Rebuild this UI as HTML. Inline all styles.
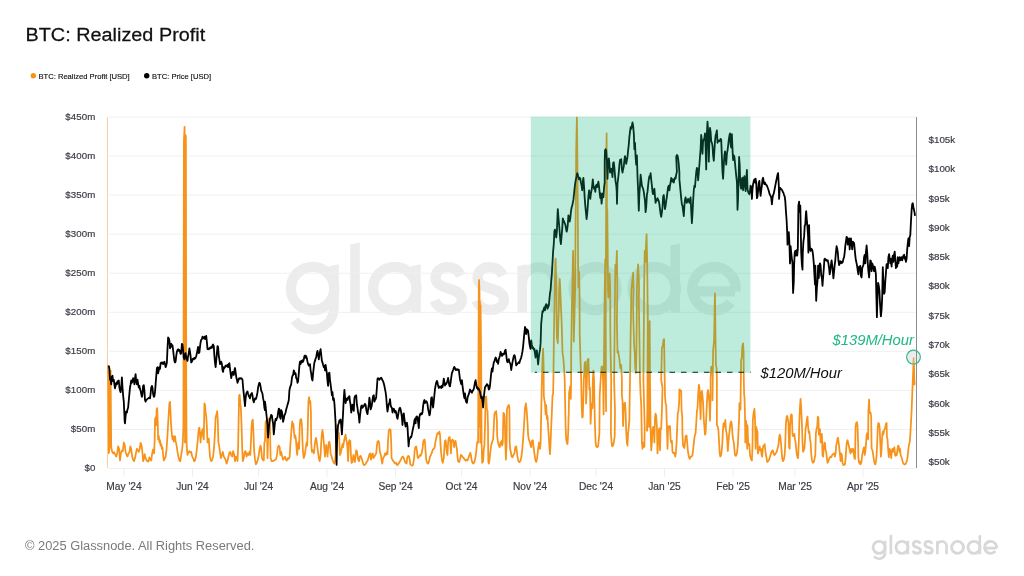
<!DOCTYPE html>
<html><head><meta charset="utf-8"><title>BTC: Realized Profit</title>
<style>
html,body{margin:0;padding:0;background:#fff;}
body{width:1024px;height:576px;overflow:hidden;position:relative;font-family:"Liberation Sans",sans-serif;}
svg{position:absolute;left:0;top:0;}
text{font-family:"Liberation Sans",sans-serif;}
.ax{font-size:9.6px;fill:#3a3d44;stroke:#3a3d44;stroke-width:0.2px;}
.title{font-size:19.2px;fill:#111;stroke:#111;stroke-width:0.25px;}
.leg{font-size:7.6px;fill:#111;stroke:#111;stroke-width:0.15px;}
.copy{font-size:12.85px;fill:#7a7a7a;}
.ann{font-size:14.8px;font-style:italic;}
</style></head><body>
<svg style="will-change:transform" width="1024" height="576" viewBox="0 0 1024 576">
<defs>
<g id="gn" fill="none" stroke="currentColor" stroke-linecap="butt">
<!--LOGO-->
<g stroke-width="10.3">
<circle cx="312.6" cy="288.6" r="21.7"/>
<circle cx="394.8" cy="288.6" r="21.7"/>
<circle cx="595" cy="288.6" r="21.5"/>
<circle cx="654.2" cy="288.6" r="21.7"/>
<path d="M434.6 300.5 C436.5 306 442 309.85 448.6 309.85 C456.5 309.85 461.9 305.6 461.9 299.6 C461.9 293 456 290.6 448.4 288.5 C441 286.4 435.6 284 435.6 277.6 C435.6 271.6 440.4 267.15 447.6 267.15 C453.4 267.15 458.4 270.2 460.8 275.6"/>
<path d="M476.6 300.5 C478.5 306 484 309.85 490.6 309.85 C498.5 309.85 503.9 305.6 503.9 299.6 C503.9 293 498 290.6 490.4 288.5 C483 286.4 477.6 284 477.6 277.6 C477.6 271.6 482.4 267.15 489.6 267.15 C495.4 267.15 500.4 270.2 502.8 275.6"/>
<path d="M692.5 291.3 H735 M735.55 291.3 A21.7 21.7 0 1 0 730.8 302.4"/>
</g>
<g stroke-width="9.6">
<path d="M334 307.7 A21.7 21.7 0 0 1 294.6 320.2"/>
<path d="M522.3 283.6 A16.45 16.45 0 0 1 555.2 283.6 V313"/>
</g>
<g stroke="none" fill="currentColor">
<path d="M329.2 266.2 L338.8 264.2 V308 H329.2Z"/>
<path d="M350.2 244.6 L359.8 242.6 V313 H350.2Z"/>
<path d="M411.2 266.2 L420.8 264.2 V313 H411.2Z"/>
<path d="M517.5 266.2 L527.1 264.2 V313 H517.5Z"/>
<path d="M670.4 245.6 L680 243.6 V313 H670.4Z"/>
</g>
</g>
</defs>
<rect width="1024" height="576" fill="#fff"/>
<text transform="translate(25.5,41.2) scale(1.034,1)" class="title">BTC: Realized Profit</text>
<circle cx="33.3" cy="75.8" r="2.7" fill="#f7931a"/>
<text x="38.5" y="78.8" class="leg">BTC: Realized Profit [USD]</text>
<circle cx="146.7" cy="75.8" r="2.7" fill="#000"/>
<text x="152" y="78.8" class="leg">BTC: Price [USD]</text>
<use href="#gn" x="0" y="0" style="color:#ececec"/>
<line x1="109" x2="916" y1="116.95" y2="116.95" stroke="#f0f0f0" stroke-width="1"/>
<line x1="109" x2="916" y1="156.01" y2="156.01" stroke="#f0f0f0" stroke-width="1"/>
<line x1="109" x2="916" y1="195.07" y2="195.07" stroke="#f0f0f0" stroke-width="1"/>
<line x1="109" x2="916" y1="234.13" y2="234.13" stroke="#f0f0f0" stroke-width="1"/>
<line x1="109" x2="916" y1="273.19" y2="273.19" stroke="#f0f0f0" stroke-width="1"/>
<line x1="109" x2="916" y1="312.25" y2="312.25" stroke="#f0f0f0" stroke-width="1"/>
<line x1="109" x2="916" y1="351.31" y2="351.31" stroke="#f0f0f0" stroke-width="1"/>
<line x1="109" x2="916" y1="390.37" y2="390.37" stroke="#f0f0f0" stroke-width="1"/>
<line x1="109" x2="916" y1="429.43" y2="429.43" stroke="#f0f0f0" stroke-width="1"/>
<line x1="109" x2="916" y1="468.49" y2="468.49" stroke="#f0f0f0" stroke-width="1"/>

<text x="95.5" y="119.85" text-anchor="end" class="ax" style="font-size:9.7px;letter-spacing:0.12px">$450m</text>
<text x="95.5" y="158.91" text-anchor="end" class="ax" style="font-size:9.7px;letter-spacing:0.12px">$400m</text>
<text x="95.5" y="197.97" text-anchor="end" class="ax" style="font-size:9.7px;letter-spacing:0.12px">$350m</text>
<text x="95.5" y="237.03" text-anchor="end" class="ax" style="font-size:9.7px;letter-spacing:0.12px">$300m</text>
<text x="95.5" y="276.09" text-anchor="end" class="ax" style="font-size:9.7px;letter-spacing:0.12px">$250m</text>
<text x="95.5" y="315.15" text-anchor="end" class="ax" style="font-size:9.7px;letter-spacing:0.12px">$200m</text>
<text x="95.5" y="354.21" text-anchor="end" class="ax" style="font-size:9.7px;letter-spacing:0.12px">$150m</text>
<text x="95.5" y="393.27" text-anchor="end" class="ax" style="font-size:9.7px;letter-spacing:0.12px">$100m</text>
<text x="95.5" y="432.33" text-anchor="end" class="ax" style="font-size:9.7px;letter-spacing:0.12px">$50m</text>
<text x="95.5" y="471.39" text-anchor="end" class="ax" style="font-size:9.7px;letter-spacing:0.12px">$0</text>
<text x="928.5" y="142.8" class="ax" style="font-size:9.8px">$105k</text>
<text x="928.5" y="172.1" class="ax" style="font-size:9.8px">$100k</text>
<text x="928.5" y="201.5" class="ax" style="font-size:9.8px">$95k</text>
<text x="928.5" y="230.8" class="ax" style="font-size:9.8px">$90k</text>
<text x="928.5" y="260.1" class="ax" style="font-size:9.8px">$85k</text>
<text x="928.5" y="289.4" class="ax" style="font-size:9.8px">$80k</text>
<text x="928.5" y="318.8" class="ax" style="font-size:9.8px">$75k</text>
<text x="928.5" y="348.1" class="ax" style="font-size:9.8px">$70k</text>
<text x="928.5" y="377.4" class="ax" style="font-size:9.8px">$65k</text>
<text x="928.5" y="406.8" class="ax" style="font-size:9.8px">$60k</text>
<text x="928.5" y="436.1" class="ax" style="font-size:9.8px">$55k</text>
<text x="928.5" y="465.4" class="ax" style="font-size:9.8px">$50k</text>
<line x1="124" x2="124" y1="468.5" y2="476.7" stroke="#eeeeee" stroke-width="1"/>
<text x="124" y="489.8" text-anchor="middle" class="ax" style="font-size:10.2px">May '24</text>
<line x1="192.5" x2="192.5" y1="468.5" y2="476.7" stroke="#eeeeee" stroke-width="1"/>
<text x="192.5" y="489.8" text-anchor="middle" class="ax" style="font-size:10.2px">Jun '24</text>
<line x1="258.5" x2="258.5" y1="468.5" y2="476.7" stroke="#eeeeee" stroke-width="1"/>
<text x="258.5" y="489.8" text-anchor="middle" class="ax" style="font-size:10.2px">Jul '24</text>
<line x1="327" x2="327" y1="468.5" y2="476.7" stroke="#eeeeee" stroke-width="1"/>
<text x="327" y="489.8" text-anchor="middle" class="ax" style="font-size:10.2px">Aug '24</text>
<line x1="395.5" x2="395.5" y1="468.5" y2="476.7" stroke="#eeeeee" stroke-width="1"/>
<text x="395.5" y="489.8" text-anchor="middle" class="ax" style="font-size:10.2px">Sep '24</text>
<line x1="461.5" x2="461.5" y1="468.5" y2="476.7" stroke="#eeeeee" stroke-width="1"/>
<text x="461.5" y="489.8" text-anchor="middle" class="ax" style="font-size:10.2px">Oct '24</text>
<line x1="530" x2="530" y1="468.5" y2="476.7" stroke="#eeeeee" stroke-width="1"/>
<text x="530" y="489.8" text-anchor="middle" class="ax" style="font-size:10.2px">Nov '24</text>
<line x1="596" x2="596" y1="468.5" y2="476.7" stroke="#eeeeee" stroke-width="1"/>
<text x="596" y="489.8" text-anchor="middle" class="ax" style="font-size:10.2px">Dec '24</text>
<line x1="664.5" x2="664.5" y1="468.5" y2="476.7" stroke="#eeeeee" stroke-width="1"/>
<text x="664.5" y="489.8" text-anchor="middle" class="ax" style="font-size:10.2px">Jan '25</text>
<line x1="733" x2="733" y1="468.5" y2="476.7" stroke="#eeeeee" stroke-width="1"/>
<text x="733" y="489.8" text-anchor="middle" class="ax" style="font-size:10.2px">Feb '25</text>
<line x1="795" x2="795" y1="468.5" y2="476.7" stroke="#eeeeee" stroke-width="1"/>
<text x="795" y="489.8" text-anchor="middle" class="ax" style="font-size:10.2px">Mar '25</text>
<line x1="863" x2="863" y1="468.5" y2="476.7" stroke="#eeeeee" stroke-width="1"/>
<text x="863" y="489.8" text-anchor="middle" class="ax" style="font-size:10.2px">Apr '25</text>

<line x1="107.5" x2="107.5" y1="117" y2="468" stroke="#fbd0a0" stroke-width="1"/>
<polyline fill="none" stroke="#f7931a" stroke-width="1.75" stroke-linejoin="round" points="108.1,365.0 108.8,453.1 109.4,448.8 109.8,370.6 110.6,370.6 111.2,447.2 112.2,451.9 113.1,453.4 114.1,452.2 115.3,454.7 116.2,456.6 117.2,453.4 118.1,446.4 119.1,448.8 120.0,460.5 120.9,453.4 121.9,450.3 122.8,451.1 123.8,442.5 124.7,444.8 125.6,451.9 126.6,455.0 127.5,456.6 128.4,453.4 129.4,452.7 130.3,446.4 131.2,448.8 132.2,456.6 133.1,459.7 134.1,461.2 135.0,458.1 135.9,453.4 136.9,448.8 137.8,450.3 138.8,451.9 139.7,448.8 140.6,442.8 141.6,445.6 142.5,453.4 143.1,461.2 144.1,458.1 144.7,454.2 145.6,458.1 146.6,460.5 147.5,461.2 148.4,461.6 149.4,457.3 150.3,459.7 151.2,460.5 152.2,453.4 153.1,449.5 154.1,453.4 154.7,439.4 155.0,419.1 155.6,417.5 156.2,425.3 156.6,409.7 157.2,408.1 157.8,423.8 158.1,439.4 158.8,436.2 159.4,442.5 160.0,440.2 160.6,445.6 161.2,444.1 161.9,448.8 162.5,447.2 163.1,455.0 163.8,460.5 164.7,458.9 165.6,456.6 166.6,448.8 167.5,434.7 168.4,419.1 169.4,403.4 170.0,401.9 170.6,414.4 171.2,426.9 171.9,434.7 172.5,439.4 173.1,436.2 173.8,441.7 174.4,437.8 175.0,436.2 175.6,440.9 176.6,445.6 177.5,451.9 178.4,456.6 179.4,460.5 180.3,461.2 181.2,455.0 182.2,448.8 182.8,442.5 183.4,426.9 183.9,140.9 184.6,126.9 184.8,286.2 185.0,442.5 185.2,286.2 185.4,134.7 185.9,136.2 186.2,380.0 186.6,442.5 186.9,448.8 187.5,455.0 188.4,451.9 189.4,451.1 190.3,452.7 191.2,451.9 192.2,456.6 193.1,458.1 194.1,461.2 195.0,460.5 195.9,456.6 196.9,448.8 197.8,439.4 198.8,428.4 199.4,427.7 200.0,433.1 200.6,442.5 201.2,434.7 201.9,431.6 202.5,429.2 203.1,436.2 203.8,439.4 204.4,403.4 205.0,405.0 205.6,412.8 206.2,415.9 206.9,426.9 207.5,442.5 208.1,439.4 208.8,438.6 209.4,448.8 210.0,456.6 210.6,459.7 211.2,461.2 212.2,459.7 213.1,456.6 214.1,447.2 215.0,431.6 215.6,417.5 216.6,413.6 217.2,411.2 217.8,420.6 218.4,442.5 219.1,445.6 220.0,451.9 220.9,458.1 221.9,455.0 222.8,451.9 223.8,456.6 224.7,458.1 225.6,459.7 226.6,463.6 227.5,461.2 228.4,456.6 229.4,452.7 230.3,451.9 231.2,455.0 232.2,456.6 233.1,451.1 234.1,454.2 235.0,461.2 235.9,456.6 236.9,458.1 237.5,461.2 238.1,447.2 238.8,411.2 239.1,395.6 239.7,394.8 240.3,403.4 240.9,408.1 241.6,426.9 242.2,448.8 242.8,461.2 243.8,458.1 244.7,451.9 245.6,451.1 246.6,456.6 247.5,453.4 248.4,455.0 249.4,451.9 250.3,455.0 250.9,442.5 251.6,426.9 252.2,420.6 252.8,419.8 253.4,431.6 254.1,450.3 255.0,459.7 255.9,464.4 256.9,462.8 257.8,459.7 258.8,455.0 259.7,448.8 260.6,445.6 261.2,448.8 261.9,458.1 262.8,459.7 263.8,460.5 264.4,442.5 265.0,440.9 265.0,440.9 265.6,422.2 266.2,420.6 266.9,426.9 267.5,458.1 268.1,437.8 268.8,419.1 269.4,418.3 270.0,426.9 270.6,458.1 271.6,461.2 272.8,461.2 274.1,460.5 275.3,459.7 276.2,458.9 277.2,453.4 277.8,447.2 278.8,445.6 279.7,447.2 280.3,455.0 281.2,451.9 282.2,456.6 283.1,459.7 284.1,458.1 285.0,456.6 285.9,459.7 286.9,460.5 287.8,458.1 288.8,458.9 289.7,456.6 290.3,445.6 291.2,433.1 292.2,421.4 292.8,426.9 293.4,423.8 294.1,433.1 294.7,437.8 295.3,435.5 295.9,439.4 296.6,448.8 297.2,455.0 297.8,445.6 298.4,442.5 299.1,448.8 299.7,426.9 300.3,419.8 301.2,419.1 301.9,425.3 302.5,442.5 303.1,453.4 303.8,458.1 304.7,455.0 305.6,448.8 306.6,442.5 307.2,445.6 307.8,426.9 308.4,401.9 309.1,397.2 309.7,403.4 310.3,401.1 310.9,411.2 311.2,442.5 311.9,451.9 312.8,450.3 313.8,453.4 314.4,448.8 315.0,442.5 315.9,437.8 316.6,440.9 317.2,445.6 317.8,450.3 318.8,458.1 319.7,461.2 320.6,455.0 321.2,442.5 321.9,433.1 322.5,430.0 323.1,434.7 323.8,442.5 324.4,448.8 325.0,456.6 325.6,450.3 326.2,444.8 326.9,448.8 327.5,456.6 328.1,448.8 328.8,442.5 329.4,441.7 330.0,445.6 330.6,453.4 331.6,456.6 332.5,459.7 333.4,462.0 334.4,463.6 335.0,461.2 335.6,455.0 336.2,430.0 336.9,425.3 337.5,426.9 338.1,434.7 338.8,433.1 339.4,442.5 340.0,455.0 340.6,453.4 341.6,448.8 342.5,444.1 343.1,447.2 343.8,442.5 344.7,437.8 345.6,434.7 346.2,439.4 346.9,442.5 347.5,448.8 348.1,461.2 348.8,442.5 349.4,440.2 350.3,440.9 350.9,455.0 351.6,462.8 352.5,462.0 353.4,455.0 354.1,458.1 355.0,462.0 355.6,455.0 356.2,450.3 356.9,451.1 357.5,455.0 358.1,459.7 359.1,461.2 359.7,456.6 360.6,455.8 361.6,458.1 362.5,461.2 363.4,464.4 364.4,465.2 365.3,464.4 366.6,462.0 367.5,461.2 368.4,458.1 369.4,454.2 370.3,453.4 370.9,459.7 371.9,455.0 372.8,453.4 373.4,458.1 374.4,456.6 375.3,455.0 376.2,453.4 376.9,445.6 377.5,441.7 378.4,440.9 379.1,442.5 379.7,450.3 380.3,453.4 380.9,455.0 381.6,460.5 382.2,463.6 383.1,458.1 384.1,456.6 385.0,453.4 385.9,455.0 386.9,451.9 387.5,454.2 388.1,439.4 388.8,430.8 389.7,429.2 390.6,430.0 391.2,442.5 391.6,458.1 392.5,459.7 393.4,461.2 394.4,462.8 395.3,463.6 396.2,462.8 397.2,465.2 398.1,464.4 399.1,462.8 400.0,461.2 400.9,459.7 401.9,457.3 402.8,456.6 403.8,458.1 404.7,461.2 405.6,462.8 406.6,463.6 407.2,458.1 408.1,455.8 409.1,456.6 409.7,459.7 410.3,464.4 411.2,465.2 412.2,465.6 413.1,464.4 414.1,458.1 414.7,450.3 415.3,447.2 416.2,446.4 416.9,450.3 417.5,456.6 418.1,458.1 419.1,456.6 420.0,455.0 420.6,455.8 421.6,453.4 422.5,448.8 423.4,440.9 424.4,439.4 425.0,442.5 425.0,442.5 425.6,451.9 426.2,459.7 427.2,462.8 428.1,463.6 429.1,461.2 430.0,456.6 430.9,455.0 431.9,452.7 432.8,449.5 433.8,448.8 434.7,447.2 435.6,440.9 436.6,436.2 437.5,433.1 438.4,433.9 439.4,431.6 440.0,434.7 440.6,445.6 441.2,453.4 441.9,459.7 442.8,462.8 443.8,458.1 444.4,447.2 445.0,440.9 445.6,440.2 446.2,445.6 446.9,453.4 447.5,455.0 448.1,442.5 448.8,437.8 449.7,437.0 450.3,442.5 450.9,453.4 451.6,440.9 452.5,439.4 453.4,440.9 454.1,447.2 454.7,441.7 455.6,440.9 456.2,445.6 456.9,448.8 457.5,456.6 458.1,461.2 459.1,462.0 460.0,459.7 460.9,455.0 461.9,455.8 462.8,457.3 463.8,458.1 464.7,459.7 465.6,460.5 466.6,459.7 467.5,460.5 468.4,458.1 469.4,455.0 470.3,452.7 470.9,455.0 471.6,459.7 472.5,462.8 473.4,463.6 474.4,462.0 475.3,458.1 476.2,451.9 476.9,444.1 477.5,441.7 478.1,442.5 478.8,286.2 479.1,280.0 479.5,292.5 479.7,426.9 480.0,301.9 480.3,442.5 480.6,305.0 480.9,333.1 481.2,364.4 481.6,442.5 482.2,462.8 483.1,461.2 483.8,448.8 484.4,445.6 485.0,426.9 485.6,397.2 486.2,396.4 486.9,409.7 487.5,410.5 488.0,426.9 488.1,445.6 488.3,461.2 488.8,463.6 489.4,461.2 490.3,451.9 491.2,445.6 492.2,441.7 493.1,439.4 493.8,426.9 494.4,414.4 495.3,412.0 496.2,411.2 496.9,420.6 497.2,436.2 497.8,440.9 498.8,445.6 499.7,447.2 500.6,442.5 501.6,440.9 502.2,445.6 502.8,442.5 503.4,412.8 504.1,413.6 504.7,417.5 505.3,442.5 505.9,459.7 506.6,442.5 506.9,409.7 507.8,406.6 508.8,405.0 509.4,408.1 509.7,442.5 510.3,450.3 510.9,451.9 511.6,456.6 512.5,457.3 513.4,455.0 514.4,453.4 515.3,447.2 516.2,446.4 516.9,451.9 517.5,456.6 518.4,461.2 519.4,462.0 520.3,461.2 521.2,458.1 522.2,450.3 523.1,439.4 524.1,423.8 525.0,408.1 525.9,403.4 526.6,409.7 527.5,422.2 528.1,434.7 528.8,439.4 529.7,441.7 530.6,445.6 531.2,447.2 531.9,440.9 532.8,440.2 533.4,445.6 534.4,453.4 535.3,459.7 536.2,462.0 537.2,458.1 538.1,448.8 539.1,442.5 540.0,448.8 540.6,443.3 541.9,380.0 542.5,360.3 543.1,348.6 543.6,365.0 543.8,395.6 544.4,400.3 545.0,403.4 545.6,414.4 546.2,405.0 546.9,419.1 547.5,415.9 548.1,426.9 548.8,436.2 549.4,447.2 550.0,454.2 550.6,442.5 551.2,426.9 551.9,411.2 552.5,395.6 553.1,394.1 553.4,380.0 553.9,336.9 554.7,290.0 555.3,262.5 555.6,258.6 556.1,275.0 556.4,290.0 556.6,321.2 556.9,336.9 557.8,343.1 558.4,321.2 558.9,305.6 559.1,290.0 559.7,278.9 560.3,290.0 560.6,297.8 560.9,305.6 561.6,321.2 562.5,352.5 563.4,358.8 564.1,368.1 564.7,380.0 565.0,395.6 565.6,426.9 566.2,439.4 566.9,442.5 567.5,444.1 568.1,434.7 568.8,411.2 569.1,392.5 569.7,389.4 570.3,386.2 570.8,398.8 571.1,384.7 571.2,352.5 571.9,305.6 572.3,290.0 572.8,262.5 573.1,250.8 573.4,270.3 573.6,290.0 573.8,341.6 574.1,329.1 574.4,321.2 574.7,305.6 575.2,290.0 575.5,231.2 575.8,200.0 576.2,149.1 576.9,117.5 577.3,149.1 577.7,200.0 578.1,262.5 578.4,287.5 579.1,271.9 579.5,290.0 579.7,333.8 580.0,344.7 580.6,363.4 581.2,380.0 581.6,403.4 582.2,417.5 582.8,416.7 583.4,395.6 583.8,380.0 584.7,363.4 585.3,361.9 585.9,380.0 586.1,403.4 586.4,395.6 586.9,380.0 587.5,360.3 588.4,358.8 589.1,380.0 589.4,389.4 590.0,387.8 590.6,423.8 591.2,411.2 591.9,403.4 592.5,408.1 592.8,380.0 593.4,370.5 594.1,380.0 594.4,401.9 595.0,426.9 595.6,442.5 596.2,446.4 597.2,447.2 598.1,446.4 598.8,439.4 599.4,433.1 599.7,395.6 600.6,380.0 601.6,366.6 602.5,366.6 603.1,380.0 603.4,403.4 603.6,414.4 603.8,380.0 604.2,336.9 604.7,290.0 605.2,259.4 605.5,290.0 605.8,336.9 606.1,411.2 605.6,380.0 605.8,290.0 606.1,215.6 606.2,172.5 606.6,133.4 606.9,188.1 607.0,231.2 607.2,265.6 607.3,209.4 607.7,246.9 608.0,290.0 608.3,297.8 608.8,290.0 609.7,273.4 610.2,290.0 610.3,329.1 610.6,352.5 611.2,380.0 610.9,433.1 611.6,442.5 612.2,446.4 613.1,445.6 613.8,442.5 614.7,436.2 615.0,411.2 614.1,380.0 614.4,352.5 615.0,290.0 615.3,264.8 615.9,275.0 616.9,250.8 617.3,290.0 616.9,321.2 617.5,352.5 618.1,350.9 618.8,355.6 619.4,358.8 620.3,368.1 621.2,365.0 621.9,380.0 621.9,395.6 622.5,400.3 623.1,426.1 623.8,408.1 624.4,403.4 625.0,402.7 625.6,411.2 626.2,431.6 626.9,442.5 627.5,445.6 628.1,433.1 628.8,426.9 629.4,419.1 629.7,395.6 630.0,380.0 630.6,336.9 631.4,290.0 632.2,281.2 633.1,272.7 633.6,290.0 633.1,305.6 633.4,321.2 634.1,344.7 634.7,352.5 635.3,368.1 635.9,372.8 636.4,352.5 636.7,321.2 636.9,290.0 637.5,273.4 638.1,264.4 638.8,278.1 639.1,290.0 638.8,297.8 639.4,336.9 640.0,380.0 640.6,395.6 641.2,403.4 641.9,442.5 642.5,448.8 643.1,442.5 643.8,447.2 644.4,446.4 644.7,426.9 643.4,380.0 643.9,321.2 644.1,290.0 644.7,250.8 645.3,262.5 645.9,246.9 646.6,234.1 647.2,262.5 647.5,290.0 647.8,336.9 648.1,380.0 646.9,430.0 647.2,430.8 647.5,380.0 647.8,305.6 648.1,380.0 649.1,426.9 649.4,380.0 649.7,321.2 650.0,380.0 650.6,428.4 651.2,450.3 651.9,442.5 652.5,430.0 653.1,426.9 653.8,428.4 654.4,442.5 655.0,417.5 655.6,413.6 656.2,415.9 656.9,426.9 657.5,453.4 658.1,442.5 658.8,430.0 659.4,428.4 660.0,450.3 660.6,430.0 661.2,428.4 661.9,411.2 662.5,387.8 661.2,380.0 661.9,347.8 662.8,346.2 663.4,340.0 664.1,339.2 664.7,380.0 665.0,395.6 665.6,403.4 666.2,405.0 666.9,426.9 667.5,448.8 668.1,426.9 668.8,426.1 669.4,428.4 670.0,426.1 670.6,439.4 671.2,442.5 671.9,440.9 672.5,451.9 673.4,453.4 674.4,452.7 675.3,456.6 675.9,451.9 676.6,442.5 677.2,426.9 677.8,412.8 678.4,411.2 679.1,403.4 679.4,389.4 680.3,390.2 681.2,390.9 681.6,411.2 682.2,415.9 682.5,434.7 683.1,445.6 683.8,447.2 684.4,448.0 685.0,442.5 685.6,436.2 686.6,435.5 687.2,442.5 687.8,450.3 688.8,456.6 689.7,458.9 690.6,456.6 691.6,456.6 692.5,455.0 693.4,447.2 694.4,437.8 695.0,434.7 695.0,434.7 695.6,433.1 696.2,423.8 696.9,411.2 697.5,408.1 698.1,395.6 698.8,384.7 699.4,387.0 700.0,403.4 700.6,419.1 701.2,392.5 701.9,390.9 702.5,395.6 703.1,403.4 703.8,419.1 704.4,426.9 705.0,434.7 705.6,433.1 706.2,419.1 706.9,403.4 707.5,392.5 708.1,390.2 708.8,395.6 709.4,403.4 710.0,420.6 710.6,395.6 710.6,380.0 711.2,366.6 712.2,368.1 712.8,377.5 712.5,400.3 713.1,350.9 714.1,340.0 714.7,305.6 715.0,293.4 715.5,336.9 715.9,365.0 716.6,368.1 716.9,380.0 716.9,425.3 717.8,426.9 718.4,430.0 719.1,442.5 719.7,453.4 720.3,456.6 721.2,455.0 722.2,445.6 722.8,433.1 723.4,423.8 724.1,423.0 724.7,426.9 725.3,419.8 725.9,430.0 726.6,433.1 727.2,439.4 727.8,451.1 728.4,442.5 729.1,434.7 729.7,430.0 730.3,423.8 731.2,421.4 731.9,425.3 732.5,434.7 733.1,439.4 733.8,442.5 734.4,448.8 735.0,455.0 735.9,455.8 736.9,453.4 737.8,445.6 738.4,433.1 739.1,419.1 739.4,403.4 740.0,402.7 740.5,409.7 740.7,389.4 740.9,377.5 741.1,359.5 741.7,358.8 742.3,346.2 743.1,343.4 743.6,352.5 743.8,380.0 744.0,389.4 744.2,395.6 744.5,397.2 745.0,415.9 745.3,442.5 745.9,420.6 746.6,425.3 747.2,448.8 747.5,425.3 748.1,442.5 748.8,445.6 749.4,444.1 750.0,455.0 750.9,458.9 751.9,460.5 752.5,445.6 752.8,420.6 753.4,414.4 754.4,408.9 755.0,419.1 755.6,448.8 756.2,426.9 756.9,430.0 757.5,431.6 757.8,453.4 758.4,451.9 759.1,448.8 759.7,446.4 760.3,450.3 760.9,448.8 761.6,455.0 762.2,456.6 762.8,448.8 763.4,445.6 764.1,446.4 764.7,444.1 765.3,450.3 765.9,455.0 766.6,458.1 767.2,462.0 768.1,461.2 769.1,459.7 770.0,456.6 770.9,453.4 771.9,451.1 772.8,450.3 773.8,454.2 774.7,455.0 775.6,453.4 776.6,451.9 777.5,448.8 778.4,445.6 779.1,437.8 779.7,434.7 780.3,436.2 780.9,442.5 781.6,450.3 782.2,458.1 782.8,461.2 783.8,459.7 784.7,455.0 785.3,442.5 785.9,423.8 786.6,416.7 787.2,415.9 787.8,419.1 788.4,422.2 789.1,447.2 789.7,448.8 790.0,426.9 790.6,417.5 791.2,414.4 791.9,415.2 792.5,434.7 793.1,436.2 793.8,434.7 794.4,433.9 795.0,439.4 795.6,442.5 796.2,448.8 796.9,455.0 797.5,457.3 798.1,458.1 798.8,442.5 799.4,419.1 800.0,406.6 800.6,398.8 801.2,408.1 801.9,423.8 802.5,442.5 803.1,451.9 803.8,450.3 804.4,448.8 805.0,439.4 805.6,428.4 806.2,425.3 806.9,419.1 807.5,416.7 808.1,426.9 808.8,433.1 809.4,431.6 810.0,439.4 810.6,442.5 811.2,453.4 811.9,459.7 812.8,462.8 813.8,462.0 814.7,458.1 815.3,455.0 815.9,433.1 816.6,428.4 817.2,426.9 817.8,416.7 818.4,417.5 818.8,434.7 819.4,431.6 820.0,429.2 820.6,442.5 821.2,434.7 821.9,433.9 822.5,455.0 823.1,456.6 823.8,447.2 824.4,442.5 825.0,443.3 825.6,450.3 826.2,451.9 826.9,458.1 827.5,462.8 828.4,461.2 829.4,458.1 830.3,456.6 831.2,457.3 832.2,455.0 833.1,454.2 834.1,453.4 835.0,456.6 835.6,453.4 836.2,445.6 836.9,442.5 837.5,438.6 838.1,437.8 838.8,444.1 839.4,448.8 840.0,455.0 840.6,461.2 841.2,453.4 841.9,455.0 842.5,462.8 843.4,465.2 844.4,464.4 845.0,464.4 845.6,458.1 846.2,448.8 846.9,441.7 847.5,440.2 848.1,442.5 848.8,445.6 849.4,448.8 850.0,451.9 850.6,453.4 851.2,448.8 851.9,451.9 852.5,449.5 853.1,448.8 853.8,453.4 854.4,458.1 855.0,458.9 855.3,442.5 855.6,426.9 856.2,423.0 856.9,422.2 857.5,425.3 858.1,442.5 858.4,458.1 859.1,462.8 859.7,461.2 860.3,464.4 860.9,463.6 861.6,461.2 862.2,455.0 862.8,451.9 863.4,448.8 864.1,447.2 864.7,455.0 865.3,451.9 865.9,445.6 866.6,434.7 867.2,433.1 867.8,433.9 868.1,439.4 868.4,411.2 869.1,399.5 869.5,412.8 870.0,412.0 870.6,412.8 871.2,417.5 871.6,448.8 872.2,449.5 872.8,451.9 873.4,456.6 874.1,461.2 874.7,463.6 875.3,464.4 875.9,462.0 876.6,455.0 877.2,442.5 877.8,426.9 878.4,423.0 879.1,423.8 879.7,428.4 880.3,442.5 880.9,456.6 881.6,448.8 882.2,436.2 882.8,431.6 883.4,434.7 884.1,430.0 884.7,429.2 885.3,426.9 885.9,423.8 886.6,423.0 886.9,436.2 887.5,439.4 888.1,448.8 888.8,457.3 889.4,448.8 890.0,449.5 890.6,453.4 891.2,458.1 891.9,450.3 892.5,448.8 893.1,451.9 893.8,448.8 894.4,447.2 895.0,455.0 895.6,455.8 896.2,453.4 896.9,455.0 897.5,448.8 898.1,445.6 898.8,446.4 899.4,451.9 900.0,448.8 900.6,455.0 901.2,456.6 901.9,458.1 902.5,461.2 903.4,463.6 904.4,464.4 905.3,464.4 906.2,462.8 907.2,459.7 907.8,455.0 908.4,448.8 909.1,444.1 909.7,442.5 910.3,434.7 910.9,423.8 911.6,411.2 912.2,395.6 912.8,380.0 913.3,367.5 913.6,358.1 914.1,369.1 914.4,384.7 914.7,381.6"/>
<polyline fill="none" stroke="#000" stroke-width="1.8" stroke-linejoin="round" points="108.8,365.6 109.4,368.8 110.0,379.7 110.6,378.1 111.2,384.4 111.9,376.6 112.5,375.8 113.1,381.2 113.8,379.7 114.4,384.4 115.0,388.3 115.6,385.9 116.2,382.8 116.9,384.4 117.5,381.2 118.1,382.8 118.8,380.5 119.4,387.5 120.0,390.6 120.6,392.2 121.2,387.5 121.9,377.3 122.5,387.5 123.1,395.3 123.8,401.6 124.2,410.2 124.7,421.9 125.0,423.4 125.5,417.2 126.1,411.7 126.9,412.5 127.5,409.4 128.1,407.8 128.8,400.0 129.4,393.8 130.0,387.5 130.6,384.4 131.2,380.5 131.9,382.8 132.5,381.2 133.1,378.1 133.8,379.7 134.4,384.4 135.0,378.1 135.6,374.2 136.2,381.2 136.9,384.4 137.5,379.7 138.1,383.6 138.8,387.5 139.4,385.9 140.0,389.1 140.6,390.6 141.2,393.8 141.9,396.9 142.5,393.8 143.1,385.9 143.8,385.2 144.4,390.6 145.0,400.0 145.6,401.6 146.2,400.0 147.2,399.2 148.1,398.4 149.1,397.7 150.0,398.4 150.6,393.8 151.2,387.5 151.9,385.9 152.5,387.5 153.1,393.8 153.8,396.9 154.4,396.1 155.0,392.2 155.6,384.4 156.2,376.6 156.9,368.0 157.5,367.2 158.1,373.4 158.8,370.3 159.4,367.2 160.0,368.8 160.6,363.3 161.2,362.5 161.9,363.3 162.5,362.5 163.1,364.1 163.8,362.5 164.4,361.7 165.0,364.1 165.6,367.2 166.2,365.6 166.9,362.5 167.5,348.4 168.1,337.5 168.8,338.3 169.4,340.6 170.0,348.4 170.6,345.3 171.2,343.8 171.9,346.9 172.5,345.3 173.1,350.0 173.8,356.2 174.4,360.9 175.0,362.5 175.6,361.7 176.2,356.2 176.9,351.6 177.5,350.0 178.1,349.2 178.8,350.8 179.4,350.0 180.0,351.6 180.6,353.9 181.2,353.1 181.9,343.8 182.5,344.5 183.1,350.0 183.8,357.8 184.4,359.4 185.0,354.7 185.6,353.1 186.2,357.8 186.9,359.4 187.5,360.9 188.1,356.2 188.8,353.1 189.4,348.4 190.0,351.6 190.6,356.2 191.2,362.5 191.9,361.7 192.5,359.4 193.1,358.6 193.8,359.4 194.4,357.8 195.0,358.6 195.6,357.8 196.2,356.2 196.9,353.1 197.5,350.0 198.1,346.9 198.8,353.1 199.4,352.3 200.0,346.9 200.6,342.2 201.2,339.8 201.9,339.1 202.5,336.7 203.1,337.5 203.8,338.3 204.4,336.7 205.0,339.1 205.6,337.5 206.2,335.9 206.9,342.2 207.5,349.2 208.1,348.4 208.8,349.2 209.4,348.4 210.0,347.7 210.6,348.4 211.2,346.9 211.9,347.7 212.5,345.3 213.1,344.5 213.8,346.1 214.4,356.2 215.0,362.5 215.6,367.2 216.2,360.9 216.9,353.1 217.5,346.1 218.1,346.9 218.8,356.2 219.4,359.4 220.0,364.1 220.6,362.5 221.2,361.7 221.9,364.1 222.5,370.3 223.1,371.9 223.8,367.2 224.4,368.0 225.0,367.2 225.6,365.6 226.2,366.4 226.9,365.6 227.5,364.8 228.1,367.2 228.8,364.1 229.4,363.3 230.0,368.8 230.6,373.4 231.2,378.1 231.9,375.0 232.5,371.9 233.1,373.4 233.8,375.0 234.4,370.3 235.0,368.0 235.6,371.9 236.2,376.6 236.9,379.7 237.5,382.8 238.1,381.2 238.8,378.9 239.4,378.1 240.0,378.9 240.6,378.1 241.2,378.1 241.9,378.9 242.5,379.7 243.1,387.5 243.8,393.8 244.4,400.0 245.0,406.2 245.6,398.4 246.2,393.8 246.9,392.2 247.5,391.4 248.1,393.8 248.8,396.1 249.4,396.9 250.0,398.4 250.6,395.3 251.2,393.8 251.9,393.0 252.5,395.3 253.1,400.0 253.8,402.3 254.4,400.0 255.0,398.4 255.6,399.2 256.2,398.4 256.9,395.3 257.5,392.2 258.1,387.5 258.8,384.4 259.4,382.8 260.0,383.6 260.6,386.7 261.2,390.6 261.9,392.2 262.5,393.8 263.1,398.4 263.8,401.6 264.4,407.8 265.0,410.2 265.0,401.6 265.6,406.2 266.2,412.5 266.9,418.8 267.5,425.0 268.1,437.5 268.8,428.1 269.4,423.4 270.0,418.8 270.6,417.2 271.2,414.8 271.9,415.6 272.5,420.3 273.1,423.4 273.8,434.4 274.4,428.1 275.0,421.9 275.6,418.8 276.2,420.3 276.9,418.0 277.5,417.2 278.1,412.5 278.8,408.6 279.4,409.4 280.0,417.2 280.6,418.8 281.2,410.2 281.9,411.7 282.5,415.6 283.1,421.9 283.8,418.8 284.4,415.6 285.0,414.1 285.6,412.5 286.2,409.4 286.9,407.0 287.5,404.7 288.1,403.1 288.8,400.0 289.4,390.6 290.0,387.5 290.6,385.9 291.2,384.4 291.9,378.1 292.5,375.8 293.1,375.0 293.8,370.3 294.4,371.9 295.0,374.2 295.6,373.4 296.2,378.1 296.9,378.9 297.5,382.8 298.1,381.2 298.8,373.4 299.4,365.6 300.0,361.7 300.6,364.1 301.2,360.9 301.9,362.5 302.5,360.2 303.1,361.7 303.8,359.4 304.4,356.2 305.0,355.5 305.6,357.8 306.2,356.2 306.9,358.6 307.5,361.7 308.1,364.1 308.8,365.6 309.4,364.8 310.0,364.1 310.6,370.3 311.2,373.4 311.9,378.9 312.5,380.5 313.1,373.4 313.8,367.2 314.4,362.5 315.0,360.9 315.6,358.6 316.2,357.0 316.9,353.1 317.5,350.8 318.1,354.7 318.8,359.4 319.4,354.7 320.0,351.6 320.6,349.2 321.2,354.7 321.9,360.9 322.5,362.5 323.1,364.8 323.8,367.2 324.4,365.6 325.0,370.3 325.6,364.8 326.2,368.8 326.9,373.4 327.5,381.2 328.1,385.9 328.8,373.4 329.4,372.7 330.0,379.7 330.6,384.4 331.2,389.1 331.9,395.3 332.5,392.2 333.1,400.0 333.8,398.4 334.4,403.1 335.0,412.5 335.6,423.4 336.1,443.8 336.6,464.8 337.0,443.8 337.5,431.2 338.1,425.0 338.8,423.4 339.4,420.3 340.0,421.1 340.6,419.5 341.2,425.0 341.9,434.4 342.5,423.4 343.1,412.5 343.8,398.4 344.4,389.8 345.0,396.9 345.6,403.1 346.2,400.0 346.9,398.4 347.5,400.0 348.1,397.7 348.8,396.9 349.4,396.1 350.0,401.6 350.6,404.7 351.2,412.5 351.9,409.4 352.5,404.7 353.1,406.2 353.8,410.9 354.4,398.4 355.0,396.1 355.6,396.9 356.2,395.3 356.9,404.7 357.5,407.8 358.1,412.5 358.8,415.6 359.4,422.7 360.0,415.6 360.6,410.9 361.2,406.2 361.9,405.5 362.5,407.8 363.1,407.0 363.8,406.2 364.4,404.7 365.0,403.9 365.6,404.7 366.2,409.4 366.9,412.5 367.5,414.1 368.1,409.4 368.8,404.7 369.4,397.7 370.0,401.6 370.6,409.4 371.2,407.8 371.9,404.7 372.5,400.0 373.1,396.1 373.8,395.3 374.4,401.6 375.0,400.0 375.6,399.2 376.2,396.9 376.9,387.5 377.5,378.9 378.1,378.1 378.8,378.9 379.4,379.7 380.0,378.9 380.6,378.1 381.2,377.8 381.9,378.9 382.5,380.5 383.1,381.2 383.8,383.6 384.4,385.9 385.0,389.1 385.6,392.2 386.2,396.9 386.9,406.2 387.5,411.7 388.1,407.8 388.8,403.9 389.4,403.1 390.0,399.2 390.6,404.7 391.2,407.0 391.9,407.8 392.5,412.5 393.1,409.4 393.8,408.6 394.4,410.2 395.0,412.5 395.6,410.9 396.2,412.5 396.9,417.2 397.5,418.8 398.1,415.6 398.8,410.9 399.4,408.6 400.0,407.8 400.6,409.4 401.2,412.5 401.9,417.2 402.5,425.0 403.1,415.6 403.8,413.3 404.4,418.8 405.0,423.4 405.6,426.6 406.2,423.4 406.9,422.7 407.5,426.6 408.1,437.5 408.6,446.4 409.2,439.8 410.0,438.3 410.6,436.7 411.2,437.2 411.9,434.4 412.5,431.2 413.1,428.1 413.8,425.0 414.4,420.3 415.0,418.8 415.6,423.4 416.2,417.2 416.9,416.4 417.5,417.2 418.1,421.9 418.8,428.1 419.4,417.2 420.0,414.1 420.6,414.8 421.2,413.3 421.9,414.1 422.5,412.5 423.1,406.2 423.8,401.6 424.4,400.0 425.0,403.1 425.0,402.8 425.6,402.0 426.2,401.2 426.9,402.0 427.5,404.4 428.1,409.1 428.8,412.2 429.4,415.3 430.0,413.8 430.6,407.5 431.2,398.1 431.9,397.3 432.5,404.4 433.1,407.5 433.8,401.2 434.4,395.0 435.0,388.8 435.6,385.6 436.2,382.5 436.9,380.9 437.5,382.5 438.1,385.6 438.8,388.0 439.4,387.2 440.0,386.4 440.6,387.2 441.2,388.0 441.9,385.6 442.5,387.2 443.1,384.1 443.8,378.6 444.4,382.5 445.0,385.6 445.6,383.3 446.2,384.1 446.9,382.5 447.5,380.9 448.1,377.8 448.8,382.5 449.4,385.6 450.0,386.4 450.6,382.5 451.2,377.8 451.9,373.1 452.5,371.6 453.1,370.0 453.8,367.7 454.4,366.9 455.0,368.4 455.6,370.0 456.2,369.2 456.9,370.0 457.5,369.2 458.1,370.0 458.8,369.7 459.4,374.7 460.0,379.4 460.6,381.7 461.2,384.1 461.9,380.2 462.5,385.6 463.1,390.3 463.8,395.0 464.4,398.1 465.0,393.4 465.6,399.7 466.2,402.0 466.9,402.8 467.5,398.1 468.1,395.8 468.8,394.2 469.4,391.9 470.0,389.5 470.6,390.3 471.2,391.9 471.9,392.7 472.5,391.1 473.1,390.3 473.8,388.8 474.4,385.6 475.0,382.5 475.6,380.2 476.2,384.1 476.9,388.0 477.5,387.2 478.1,389.5 478.8,388.8 479.4,390.3 480.0,391.9 480.6,395.0 481.2,398.1 481.9,396.6 482.5,401.2 483.1,407.5 483.8,398.1 484.4,391.9 485.0,387.2 485.6,386.4 486.2,385.6 486.9,384.1 487.5,384.8 488.1,385.6 488.8,389.5 489.4,388.8 490.0,385.6 490.6,379.4 491.2,373.1 491.9,368.4 492.5,371.6 493.1,366.9 493.8,362.2 494.4,361.4 495.0,359.1 495.6,357.5 496.2,358.3 496.9,362.2 497.5,360.6 498.1,363.8 498.8,359.1 499.4,357.5 500.0,355.2 500.6,352.0 501.2,353.6 501.9,355.9 502.5,355.2 503.1,353.6 503.8,354.4 504.4,353.6 505.0,350.5 505.6,349.7 506.2,354.4 506.9,360.6 507.5,362.2 508.1,360.6 508.8,359.1 509.4,362.2 510.0,363.0 510.6,364.5 511.2,370.0 511.9,365.3 512.5,362.2 513.1,359.1 513.8,355.9 514.4,355.2 515.0,356.7 515.6,360.6 516.2,365.3 516.9,364.5 517.5,363.8 518.1,363.0 518.8,362.2 519.4,363.0 520.0,360.6 520.6,359.1 521.2,357.5 521.9,354.4 522.5,351.2 523.1,346.6 523.8,338.8 524.4,332.5 525.0,327.0 525.6,328.6 526.2,334.1 526.9,329.4 527.5,330.2 528.1,330.9 528.8,337.2 529.4,343.4 530.0,346.6 530.6,348.9 531.2,340.3 531.9,345.0 532.5,348.1 533.1,347.3 533.8,349.7 534.4,348.9 535.0,353.6 535.6,357.5 536.2,351.2 536.9,350.5 537.5,357.5 538.1,364.5 538.8,357.5 539.4,352.8 540.0,349.7 540.6,343.4 541.2,323.6 541.9,316.6 542.5,311.1 543.1,311.9 543.8,308.8 544.4,307.2 545.0,310.3 545.6,305.6 546.2,304.1 546.9,304.8 547.5,308.8 548.1,307.2 548.8,305.6 549.4,299.4 550.0,293.1 550.6,290.0 551.2,281.2 551.9,273.4 552.5,262.5 553.1,251.6 553.8,243.8 554.4,231.2 555.0,229.7 555.6,232.8 556.2,237.5 556.9,231.2 557.5,215.6 557.8,209.1 558.4,216.9 559.1,224.7 559.7,232.5 560.3,240.3 560.9,244.2 561.6,235.6 562.2,229.4 562.8,218.4 563.4,220.0 564.1,221.6 564.7,223.1 565.3,224.7 565.9,227.8 566.6,231.7 567.2,229.4 567.8,224.7 568.4,215.3 569.1,216.9 569.7,221.6 570.3,218.4 570.9,212.2 571.6,207.5 572.2,205.9 572.8,202.8 573.4,199.7 574.1,193.4 574.7,187.2 575.3,182.5 575.9,179.4 576.6,176.2 577.2,173.1 577.8,174.7 578.4,177.0 579.1,179.4 579.7,177.8 580.3,178.6 580.9,182.5 581.6,185.6 582.2,190.3 582.8,181.7 583.4,177.8 584.1,187.2 584.7,198.1 585.3,205.9 585.9,212.2 586.6,219.2 587.2,213.8 587.8,205.9 588.4,196.6 589.1,190.3 589.7,195.0 590.3,198.9 590.9,193.4 591.6,190.3 592.2,185.6 592.8,179.4 593.4,185.6 594.1,188.8 594.7,187.2 595.3,191.9 595.9,185.6 596.6,184.8 597.2,187.2 597.8,184.1 598.4,181.7 599.1,187.2 599.7,193.4 600.3,198.1 600.9,193.4 601.6,203.6 602.2,196.6 602.8,193.4 603.4,197.3 604.1,187.2 604.7,182.5 604.7,161.6 605.0,150.6 605.6,149.1 606.2,150.6 606.9,161.6 607.5,178.8 608.1,163.1 608.8,158.4 609.4,163.1 610.0,172.5 610.6,169.4 611.2,168.6 611.9,172.5 612.5,177.2 613.1,163.1 613.8,162.3 614.4,167.8 615.0,175.6 615.6,181.9 616.2,185.0 616.7,191.2 617.0,203.8 617.5,183.4 618.1,178.8 618.8,172.5 619.4,164.7 620.0,160.0 620.6,161.6 621.2,159.2 621.9,169.4 622.5,172.5 623.1,169.4 623.8,166.2 624.4,160.0 625.0,156.1 625.6,158.4 626.2,163.9 626.9,160.0 627.5,156.9 628.1,150.6 628.8,144.4 629.4,136.6 630.0,131.9 630.6,127.2 631.2,128.8 631.9,125.6 632.5,122.5 633.1,125.6 633.8,133.4 634.4,149.1 635.0,142.8 635.6,156.9 636.2,164.7 636.9,155.3 637.5,176.2 638.1,190.3 638.8,210.6 639.4,193.4 640.0,185.6 640.6,174.7 641.2,179.4 641.9,185.6 642.5,187.2 643.1,188.8 643.8,191.9 644.4,196.6 645.0,201.2 645.6,212.2 646.2,207.5 646.9,195.0 647.5,191.9 648.1,185.6 648.8,179.4 649.4,176.2 650.0,177.8 650.6,173.1 651.2,179.4 651.9,185.6 652.5,191.9 653.1,194.2 653.8,190.3 654.4,188.8 655.0,196.6 655.6,202.8 656.2,199.7 656.9,200.5 657.5,198.1 658.1,199.7 658.8,201.2 659.4,204.4 660.0,209.1 660.6,213.8 661.2,216.9 661.9,212.2 662.5,207.5 663.1,196.6 663.8,195.0 664.4,202.8 665.0,209.1 665.6,205.9 666.2,201.2 666.9,196.6 667.5,191.9 668.1,187.2 668.8,185.6 669.4,190.3 670.0,185.6 670.6,182.5 671.2,177.8 671.9,179.4 672.5,181.7 673.1,179.4 673.8,182.5 674.4,179.4 675.0,177.8 675.6,178.6 676.2,174.7 676.9,171.6 676.2,156.9 676.9,155.0 677.5,155.6 678.1,158.4 678.8,164.7 679.4,172.5 679.4,179.4 680.0,185.6 680.6,191.9 681.2,198.1 681.9,204.4 682.5,205.9 683.1,210.6 683.8,216.1 684.4,205.9 685.0,199.7 685.6,197.3 686.2,201.2 686.9,202.8 687.5,200.5 688.1,198.9 688.8,201.2 689.4,202.8 690.0,199.7 690.6,197.3 691.2,210.6 691.9,223.1 692.5,213.8 693.1,201.2 693.8,190.3 694.4,185.6 695.0,187.2 695.6,179.4 696.2,172.5 696.9,167.8 697.5,169.4 698.1,180.3 698.8,172.5 699.4,164.7 700.0,156.9 700.6,149.1 701.2,135.0 701.9,141.2 702.5,153.8 703.1,141.2 703.8,139.7 704.4,138.1 705.0,133.4 705.6,147.5 706.2,169.4 706.9,133.4 707.5,121.7 708.1,130.3 708.8,161.6 709.4,141.2 710.0,128.0 710.6,131.9 711.2,141.2 711.9,142.8 712.5,145.9 713.1,155.3 713.8,160.8 714.4,150.6 715.0,141.2 715.6,135.8 716.2,133.4 716.9,130.3 717.5,142.8 718.1,141.2 718.8,140.5 719.4,141.2 720.0,140.5 720.6,138.9 721.2,139.7 721.9,156.9 722.5,172.5 723.1,178.8 723.8,164.7 724.4,155.3 725.0,151.4 725.6,156.9 726.2,164.7 726.9,153.8 727.5,150.6 728.1,145.9 728.8,139.7 729.4,135.8 730.0,133.4 730.6,144.4 731.2,147.5 731.9,134.2 732.5,149.1 733.1,160.0 733.8,155.3 734.4,156.9 735.0,163.1 735.6,169.4 736.2,175.6 736.9,181.9 737.2,193.4 737.5,209.8 738.0,199.7 738.4,185.6 738.8,172.5 739.1,156.9 739.7,164.7 740.0,174.7 740.6,185.6 741.2,188.8 741.9,179.4 742.5,177.8 743.1,190.3 743.8,179.4 744.4,176.2 745.0,185.6 745.6,191.1 746.2,179.4 746.9,170.0 747.5,188.8 748.1,191.9 748.8,193.4 749.4,194.2 750.0,190.3 750.6,185.6 751.2,187.2 751.9,198.9 752.5,188.8 753.1,184.1 753.8,180.9 754.4,179.4 755.0,182.5 755.6,178.6 756.2,182.5 756.9,198.1 757.5,196.6 758.1,190.3 758.8,182.5 759.4,180.9 760.0,190.3 760.6,195.8 761.2,190.3 761.9,185.6 762.5,179.4 763.1,177.8 763.8,182.5 764.4,184.1 765.0,182.5 765.6,184.1 766.2,184.8 766.9,185.6 767.5,187.2 768.1,188.8 768.8,191.1 769.4,193.4 770.0,195.0 770.6,195.8 771.2,197.3 771.9,204.4 772.5,198.1 773.1,195.0 773.8,193.4 774.4,190.3 775.0,187.2 775.6,184.1 776.2,180.9 776.9,177.8 777.5,174.7 778.1,173.1 778.8,185.6 779.1,198.9 779.7,188.8 780.3,188.0 780.9,188.8 781.6,189.5 782.2,190.3 782.8,191.9 783.4,192.7 784.1,195.0 784.7,196.6 785.3,201.2 785.9,210.6 786.6,220.0 787.2,232.5 787.5,244.7 788.1,236.9 788.8,232.2 789.4,243.1 790.0,263.4 790.6,246.2 791.2,252.5 791.9,258.8 792.5,263.4 792.8,281.2 793.1,293.0 793.8,281.2 794.1,265.6 794.7,252.5 795.3,250.9 795.9,255.6 796.6,250.2 797.2,255.6 797.8,249.4 798.1,229.1 798.4,205.6 799.1,201.7 799.7,211.9 800.3,205.6 800.6,221.2 801.2,252.5 801.9,265.0 802.5,269.7 802.8,252.5 803.4,241.6 804.1,236.9 804.7,225.9 805.3,224.4 805.9,213.4 806.2,211.1 806.9,221.2 807.5,227.5 808.1,236.9 808.4,252.5 809.1,225.2 809.4,236.9 810.0,249.4 810.6,250.9 811.2,248.6 811.9,249.4 812.5,250.9 813.1,255.6 813.8,263.4 814.4,274.4 815.0,284.4 815.3,265.6 815.9,290.6 816.2,300.8 816.9,287.5 817.5,281.2 818.1,265.6 818.8,278.1 819.4,265.6 820.0,263.3 820.6,265.6 821.2,275.0 821.9,278.1 822.5,285.9 823.1,277.3 823.8,268.8 824.4,259.4 825.0,258.6 825.3,260.3 825.9,259.5 826.6,260.3 827.2,261.1 827.8,260.3 828.4,263.4 829.1,268.1 829.7,274.4 830.3,271.2 830.9,265.0 831.6,260.3 832.2,265.0 832.8,271.2 833.4,278.3 834.1,271.2 834.7,265.0 835.3,260.3 835.9,252.5 836.6,246.2 837.2,248.6 837.8,252.5 838.4,260.3 839.1,265.0 839.7,261.9 840.3,261.1 840.9,263.4 841.6,261.9 842.2,262.7 842.8,261.9 843.4,258.8 844.1,257.2 844.7,252.5 845.3,246.2 845.9,241.6 846.6,236.9 847.2,237.7 847.8,244.7 848.4,241.6 849.1,238.4 849.7,249.4 850.3,240.0 850.9,238.4 851.6,243.9 852.2,249.4 852.8,241.6 853.4,242.3 854.1,243.1 854.7,249.4 855.3,255.6 855.9,260.3 856.6,263.4 857.2,266.6 857.8,271.2 858.4,274.4 859.1,266.6 859.7,268.1 860.3,265.8 860.9,275.9 861.6,277.5 862.2,268.1 862.8,266.6 863.4,265.0 864.1,257.2 864.7,254.8 865.3,263.4 865.9,252.5 866.6,245.5 867.2,252.5 867.8,263.4 868.4,271.2 869.1,277.5 869.7,268.1 870.3,260.3 870.9,261.1 871.6,271.2 872.2,263.4 872.8,265.0 873.4,268.1 874.1,271.2 874.7,266.6 875.3,269.7 875.9,274.4 876.2,289.1 876.6,304.7 876.9,317.2 877.5,296.9 878.1,282.8 878.8,285.9 879.4,290.6 880.0,303.1 880.6,312.5 880.9,316.4 881.6,309.4 882.2,296.9 882.8,267.2 883.4,281.2 884.1,293.8 884.7,292.2 885.3,281.2 885.9,273.4 886.6,264.1 887.2,265.0 887.8,268.1 888.4,257.2 889.1,254.1 889.7,258.8 890.3,263.4 890.9,258.8 891.6,266.6 892.2,258.8 892.8,255.6 893.4,261.9 894.1,254.1 894.7,251.7 895.3,258.8 895.9,268.1 896.6,263.4 897.2,266.6 897.8,257.2 898.4,263.4 899.1,258.8 899.7,257.2 900.3,260.3 900.9,259.5 901.6,257.2 902.2,260.3 902.8,258.0 903.4,255.6 904.1,254.8 904.7,258.8 905.3,257.2 905.9,261.9 906.6,258.8 907.2,249.4 907.8,243.1 908.4,238.4 909.1,246.2 909.7,236.9 910.3,235.3 910.9,222.8 911.6,210.3 912.2,204.1 912.8,203.3 913.4,207.2 914.1,210.3 914.7,213.4 915.0,215.8"/>
<line x1="534.8" x2="750.6" y1="372.2" y2="372.2" stroke="#000" stroke-width="1.1" stroke-dasharray="5.5 6" stroke-dashoffset="3.3"/>
<rect x="530.8" y="116.7" width="219.6" height="256" fill="rgba(16,185,129,0.275)"/>
<text x="760.5" y="378" class="ann" fill="#111">$120M/Hour</text>
<text x="832.5" y="345" class="ann" fill="#21b783">$139M/Hour</text>
<circle cx="913.5" cy="357.1" r="6.9" fill="rgba(205,210,210,0.4)" stroke="#35ba8c" stroke-width="1.2"/>
<line x1="916.5" x2="916.5" y1="117" y2="468" stroke="#8c8c8c" stroke-width="1"/>
<text x="25" y="550.1" class="copy">© 2025 Glassnode. All Rights Reserved.</text>
<g transform="translate(871.6,467.2) scale(0.2778)"><use href="#gn" x="-285.6" y="0" style="color:#d8d8d8"/></g>
</svg>
</body></html>
